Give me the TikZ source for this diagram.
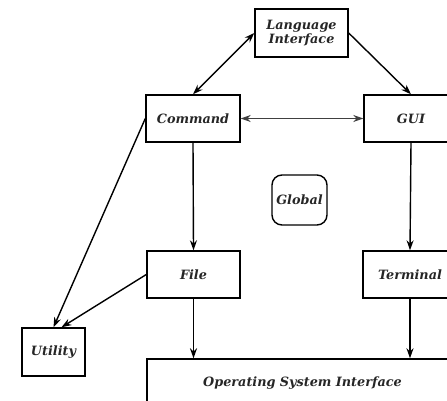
\documentclass[tikz,border=0pt]{standalone}
\usepackage{fontspec}
\newfontfamily\labelfont{DejaVu Serif}
\usetikzlibrary{arrows.meta}
\begin{document}
\begin{tikzpicture}[x=1pt,y=-1pt,
  box/.style={draw=black, line width=1.4pt, rectangle, minimum width=94pt, minimum height=47pt,
    inner sep=0pt, font=\labelfont\fontsize{12.8}{14}\selectfont\bfseries\itshape, text=black!85, align=center},
  conn/.style={line width=1.4pt, -{Stealth[length=10pt,width=7pt]}},
  both/.style={line width=1.4pt, {Stealth[length=10pt,width=7pt]}-{Stealth[length=10pt,width=7pt]}},
  thinboth/.style={line width=0.9pt, draw=black!75, {Stealth[length=10pt,width=7pt]}-{Stealth[length=10pt,width=7pt]}}]
  \useasboundingbox (0,0) rectangle (447,401);
  \clip (0,0) rectangle (447,401);

  % component boxes
  \node[box, minimum width=93pt, minimum height=48pt] (lang) at (301.5,33) {Language\\Interface};
  \node[box] (cmd)  at (193,118.5) {Command};
  \node[box] (gui)  at (411,118.5) {GUI};
  \node[box, rounded corners=10pt, minimum width=55pt, minimum height=50pt] (glob) at (299.5,200) {Global};
  \node[box, minimum width=93pt] (file) at (193.5,274.5) {File};
  \node[box] (term) at (410,274.5) {Terminal};
  \node[box, minimum width=63pt, minimum height=48pt] (util) at (53.5,352) {Utility};
  \node[box, minimum width=311pt, minimum height=48pt] (os) at (302.5,383) {Operating System Interface};

  % connectors
  \draw[both] (cmd.north) -- (lang.west);
  \draw[conn] (lang.east) -- (gui.north);
  \draw[thinboth] (cmd.east) -- (gui.west);
  \draw[conn] (cmd.south) -- (file.north);
  \draw[conn] (gui.south) -- (term.north);
  \draw[conn] (cmd.west) -- (util.north);
  \coordinate (utilin) at ([xshift=8pt]util.north);
  \draw[conn] (file.west) -- (utilin);
  \draw[conn] (file.south) -- (file.south |- os.north);
  \draw[conn] (term.south) -- (term.south |- os.north);
\end{tikzpicture}
\end{document}
